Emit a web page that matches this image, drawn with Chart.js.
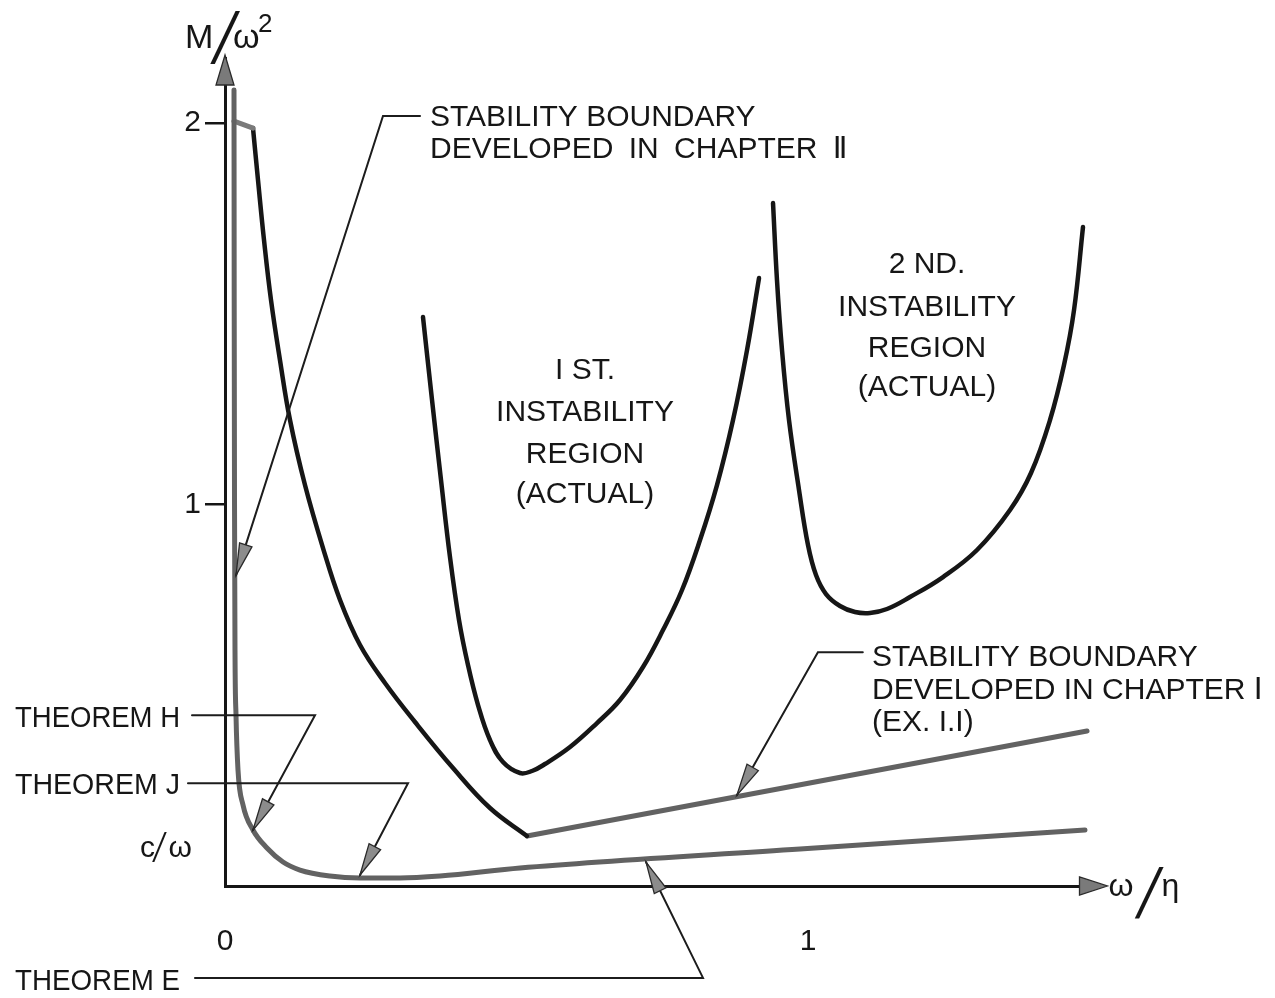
<!DOCTYPE html>
<html>
<head>
<meta charset="utf-8">
<script src="https://cdn.jsdelivr.net/npm/chart.js@4/dist/chart.umd.min.js"></script>
<style>
  html, body { margin: 0; padding: 0; background: #fff; }
  #wrap { width: 1275px; height: 998px; }
  canvas { display: block; }
</style>
</head>
<body>
<div id="wrap"><canvas id="fig" width="1275" height="998"></canvas></div>
<script>
// Axis ticks (M/ω² on the vertical axis, ω/η on the horizontal axis)
const xTicks = [0, 1];
const yTicks = [1, 2];

// Stability boundary developed in Chapter II (Theorems E, H, J)
const chapIIx = [0.01544, 0.01578, 0.0163, 0.01715, 0.01887, 0.0223, 0.0309, 0.048, 0.072, 0.0995, 0.1286, 0.18, 0.2316, 0.3002, 0.3688, 0.506, 0.9863, 1.4751];
const chapIIy = [2.086, 1.536, 1.0115, 0.6184, 0.4481, 0.304, 0.2123, 0.1468, 0.0996, 0.0629, 0.0419, 0.0262, 0.021, 0.021, 0.0262, 0.0472, 0.097, 0.1468];

// Stability boundary developed in Chapter I (Ex. 1.1): short top joint, curved branch, straight branch
const chapIjoinX = [0.0154, 0.048];
const chapIjoinY = [2.0047, 1.9864];
const chapIcurveX = [0.048, 0.0566, 0.0669, 0.0789, 0.0943, 0.1115, 0.1372, 0.1681, 0.1973, 0.2316, 0.2744, 0.3259, 0.3911, 0.4545, 0.518];
const chapIcurveY = [1.9864, 1.8501, 1.6929, 1.5356, 1.3784, 1.2212, 1.0508, 0.8857, 0.7495, 0.6316, 0.532, 0.4298, 0.3092, 0.2044, 0.131];
const chapIlineX = [0.518, 1.4786];
const chapIlineY = [0.131, 0.4062];

// 1st instability region (actual)
const region1x = [0.3396, 0.3551, 0.3705, 0.3859, 0.4014, 0.4168, 0.434, 0.4545, 0.4768, 0.506, 0.5266, 0.5489, 0.5918, 0.6381, 0.6775, 0.717, 0.7513, 0.7839, 0.8148, 0.8439, 0.8714, 0.8954, 0.916];
const region1y = [1.4911, 1.2736, 1.0639, 0.8622, 0.6971, 0.5791, 0.4743, 0.3826, 0.3249, 0.2961, 0.3014, 0.3197, 0.3643, 0.4271, 0.4874, 0.5739, 0.6709, 0.7757, 0.9067, 1.0508, 1.2212, 1.4046, 1.5933];

// 2nd instability region (actual)
const region2x = [0.94, 0.9468, 0.9554, 0.9674, 0.9846, 1.0, 1.0137, 1.0309, 1.0549, 1.0806, 1.1063, 1.1355, 1.175, 1.2316, 1.2899, 1.3465, 1.3825, 1.4151, 1.4391, 1.4563, 1.4717];
const region2y = [1.7898, 1.5881, 1.4046, 1.2212, 1.0377, 0.8936, 0.815, 0.7652, 0.7338, 0.718, 0.7154, 0.7259, 0.7573, 0.8097, 0.8805, 0.9853, 1.0823, 1.2212, 1.3653, 1.5094, 1.7269];

const FONT = '"Liberation Sans", Arial, "DejaVu Sans", sans-serif';
const THIN = '300 {s}px Roboto, "Liberation Sans", sans-serif';
const INK = '#161616';
const GREY = '#626262';

function pts(xs, ys) { return xs.map((v, i) => ({ x: v, y: ys[i] })); }

// mode: 'spline', 'monotone' or 'straight'
function curve(xs, ys, color, width, mode) {
  return {
    data: pts(xs, ys), showLine: true, pointRadius: 0, pointHoverRadius: 0,
    borderColor: color, borderWidth: width, fill: false, clip: false,
    tension: mode === 'straight' ? 0 : 0.4,
    cubicInterpolationMode: mode === 'monotone' ? 'monotone' : 'default',
    borderCapStyle: 'round', borderJoinStyle: 'round'
  };
}

// Leader lines: text end -> bend -> arrow tip, in axis units
const leaders = [
  { xs: [0.3345, 0.271, 0.0189], ys: [2.018, 2.018, 0.814] },      // Chapter II
  { xs: [1.094, 1.017, 0.878], ys: [0.6126, 0.6126, 0.238] },       // Chapter I
  { xs: [-0.0566, 0.1544, 0.048], ys: [0.4476, 0.4476, 0.1466] },   // Theorem H
  { xs: [-0.0635, 0.3139, 0.2316], ys: [0.2696, 0.2696, 0.0288] },  // Theorem J
  { xs: [-0.0515, 0.8199, 0.7221], ys: [-0.2408, -0.2408, 0.0628] } // Theorem E
];

// Text blocks: anchor in axis units, alignment, optional width limit / word gap, lines with vertical centres
const notes = [
  { x: 0.3516, align: 'left', lines: [['STABILITY BOUNDARY', 2.0204]] },
  { x: 0.3516, align: 'left', gap: '7px', lines: [['DEVELOPED IN CHAPTER \u2161', 1.9366]] },
  { x: 1.1098, align: 'left', lines: [['STABILITY BOUNDARY', 0.6053], ['DEVELOPED IN CHAPTER \u2160', 0.5189], ['(EX. I.I)', 0.435]] },
  { x: -0.3602, align: 'left', fit: 165, lines: [['THEOREM H', 0.4455]] },
  { x: -0.3602, align: 'left', fit: 165, lines: [['THEOREM J', 0.2699]] },
  { x: -0.3602, align: 'left', fit: 165, lines: [['THEOREM E', -0.2437]] },
  { x: 0.6175, align: 'center', lines: [['I ST.', 1.3574], ['INSTABILITY', 1.2474], ['REGION', 1.1373], ['(ACTUAL)', 1.0325]] },
  { x: 1.2041, align: 'center', lines: [['2 ND.', 1.6352], ['INSTABILITY', 1.5225], ['REGION', 1.4151], ['(ACTUAL)', 1.3129]] }
];

function arrowHead(ctx, x0, y0, x1, y1, len, half, fill) {
  const a = Math.atan2(y1 - y0, x1 - x0);
  const bx = x1 - Math.cos(a) * len, by = y1 - Math.sin(a) * len;
  const nx = -Math.sin(a) * half, ny = Math.cos(a) * half;
  ctx.beginPath();
  ctx.moveTo(x1, y1);
  ctx.lineTo(bx + nx, by + ny);
  ctx.lineTo(bx - nx, by - ny);
  ctx.closePath();
  ctx.fillStyle = fill;
  ctx.fill();
  ctx.lineWidth = 1.3;
  ctx.strokeStyle = '#2a2a2a';
  ctx.stroke();
}

function text(ctx, s, x, yc, size, align, fit, gap) {
  ctx.save();
  ctx.font = size + 'px ' + FONT;
  ctx.textAlign = align;
  ctx.textBaseline = 'alphabetic';
  if (gap && 'wordSpacing' in ctx) ctx.wordSpacing = gap;
  if (fit) ctx.fillText(s, x, yc + size * 0.358, fit);
  else ctx.fillText(s, x, yc + size * 0.358);
  ctx.restore();
}

// Slanted fraction bar in a light face, stretched a little sideways
function slash(ctx, x, baseline, size, stretch) {
  ctx.save();
  ctx.translate(x, baseline);
  ctx.scale(stretch, 1);
  ctx.font = THIN.replace('{s}', size);
  ctx.textAlign = 'left';
  ctx.textBaseline = 'alphabetic';
  ctx.fillText('/', 0, 0);
  ctx.restore();
}

const figureNotes = {
  id: 'figureNotes',
  afterDraw(chart) {
    const { ctx, chartArea: ca, scales: { x, y } } = chart;
    const px = v => x.getPixelForValue(v);
    const py = v => y.getPixelForValue(v);
    ctx.save();

    // axis arrowheads
    const ox = px(0), oy = py(0);
    arrowHead(ctx, ox, ca.top + 40, ox, ca.top - 3, 30, 9, '#7a7a7a');
    arrowHead(ctx, ca.right - 40, oy, ca.right + 8, oy, 28, 9, '#7a7a7a');

    // leader lines with arrows
    ctx.lineCap = 'round';
    ctx.lineJoin = 'miter';
    leaders.forEach(l => {
      ctx.beginPath();
      l.xs.forEach((v, i) => {
        const X = px(v), Y = py(l.ys[i]);
        if (i === 0) ctx.moveTo(X, Y); else ctx.lineTo(X, Y);
      });
      ctx.lineWidth = 2;
      ctx.strokeStyle = '#1c1c1c';
      ctx.stroke();
      const n = l.xs.length;
      arrowHead(ctx, px(l.xs[n - 2]), py(l.ys[n - 2]), px(l.xs[n - 1]), py(l.ys[n - 1]), 32, 6.5, '#8c8c8c');
    });

    // annotations
    ctx.fillStyle = INK;
    notes.forEach(nb => {
      nb.lines.forEach(([s, v]) => text(ctx, s, px(nb.x), py(v), 30, nb.align, nb.fit, nb.gap));
    });

    // c/ω marker beside the vertical axis
    text(ctx, 'c', px(-0.146), py(0.104), 30, 'left');
    slash(ctx, px(-0.126), py(0.104) + 14, 38, 1.1);
    text(ctx, '\u03c9', px(-0.097), py(0.104), 30, 'left');

    // vertical axis title M/ω²
    ctx.font = '34px ' + FONT;
    ctx.textAlign = 'left';
    ctx.textBaseline = 'alphabetic';
    ctx.fillText('M', ox - 40, 48);
    slash(ctx, ox - 16, 60, 68, 1.25);
    ctx.font = '34px ' + FONT;
    ctx.fillText('\u03c9', ox + 8, 48);
    ctx.font = '26px ' + FONT;
    ctx.fillText('2', ox + 33, 32);

    // horizontal axis title ω/η
    ctx.font = '32px ' + FONT;
    ctx.fillText('\u03c9', ca.right + 9, oy + 10);
    slash(ctx, ca.right + 34, oy + 29, 66, 1.25);
    ctx.font = '32px ' + FONT;
    ctx.fillText('\u03b7', ca.right + 62, oy + 10);

    ctx.restore();
  }
};

new Chart(document.getElementById('fig'), {
  type: 'scatter',
  data: {
    datasets: [
      curve(chapIIx, chapIIy, GREY, 5, 'monotone'),
      curve(chapIjoinX, chapIjoinY, '#7a7a7a', 5, 'straight'),
      curve(chapIcurveX, chapIcurveY, INK, 4.5, 'spline'),
      curve(chapIlineX, chapIlineY, GREY, 5, 'straight'),
      curve(region1x, region1y, INK, 4.5, 'spline'),
      curve(region2x, region2y, INK, 4.5, 'spline')
    ]
  },
  options: {
    responsive: false,
    animation: false,
    events: [],
    layout: { padding: { top: 58, right: 175.5, left: 0, bottom: 0 } },
    plugins: { legend: { display: false }, tooltip: { enabled: false } },
    scales: {
      x: {
        type: 'linear', min: 0, max: 1.5,
        afterFit(s) { s.height = 112; },
        afterBuildTicks(s) { s.ticks = xTicks.map(v => ({ value: v })); },
        grid: { display: false },
        border: { display: true, width: 3, color: INK },
        ticks: { padding: 30, color: INK, font: { family: FONT, size: 30 }, maxRotation: 0, autoSkip: false }
      },
      y: {
        type: 'linear', min: 0, max: 2.17,
        afterFit(s) { s.width = 225; },
        afterBuildTicks(s) { s.ticks = yTicks.map(v => ({ value: v })); },
        grid: { display: true, drawOnChartArea: false, drawTicks: true, tickLength: 20, lineWidth: 2.5, color: INK },
        border: { display: true, width: 3, color: INK },
        ticks: { padding: 4, color: INK, font: { family: FONT, size: 30 }, autoSkip: false }
      }
    }
  },
  plugins: [figureNotes]
});
</script>
</body>
</html>
